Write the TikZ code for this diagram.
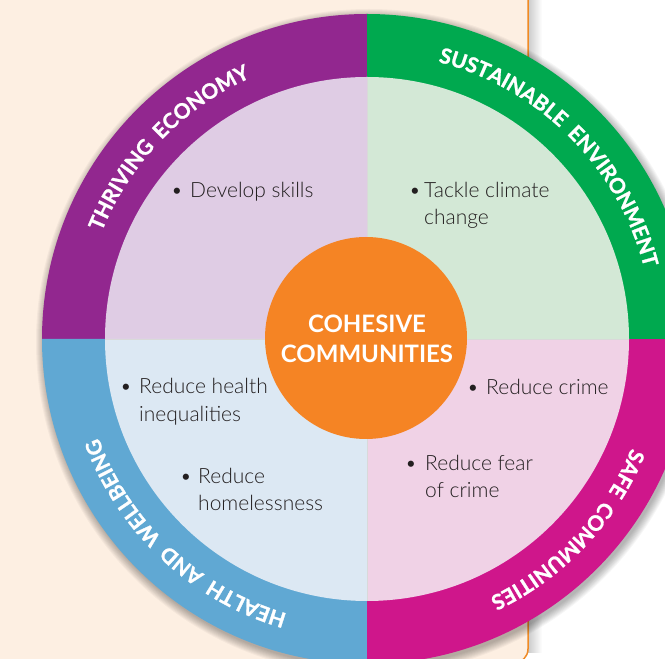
\documentclass[tikz,border=0pt]{standalone}
\usepackage{fontspec}
\setmainfont{Lato}
\newfontfamily\bodyfam{Lato Light}
\newfontfamily\ringfam{Lato}[LetterSpace=20, FakeBold=1.2]
\usetikzlibrary{decorations.text}
\definecolor{ringP}{HTML}{92278F}
\definecolor{lightP}{HTML}{DFCCE4}
\definecolor{ringG}{HTML}{00A94F}
\definecolor{lightG}{HTML}{D3E8D6}
\definecolor{ringM}{HTML}{CF168B}
\definecolor{lightM}{HTML}{F0D2E6}
\definecolor{ringB}{HTML}{60A8D3}
\definecolor{lightB}{HTML}{DCE8F3}
\definecolor{coreO}{HTML}{F58424}
\definecolor{peach}{HTML}{FDEFE2}
\definecolor{borderO}{HTML}{F08A24}
\definecolor{txtC}{HTML}{231F20}
\newcommand\ringfont{\ringfam\bfseries\fontsize{21}{21}\selectfont}
\tikzset{
  bodytxt/.style={inner sep=0pt, anchor=base west, text=txtC, font=\bodyfam\fontsize{21}{28}\selectfont},
  bulletmark/.style={inner sep=0pt, anchor=base, text=txtC, font=\bodyfam\fontsize{21}{28}\selectfont},
  coretxt/.style={inner sep=0pt, anchor=base, text=white, font=\bfseries\fontsize{24}{28}\selectfont},
  ringlabel/.style={decorate, decoration={text along path, text={|\ringfont|#1}, text align=center, text color=white}}
}
\begin{document}
\begin{tikzpicture}[x=1pt,y=1pt]
\useasboundingbox (0,0) rectangle (665,659);
\fill[white] (0,0) rectangle (665,659);
% panel shadow and panel
\shade[left color=black!22, right color=white] (527,6) rectangle (542,680);
\fill[peach, draw=borderO, line width=1.5pt, rounded corners=14pt] (-20,-4) rectangle (528,680);
\coordinate (C) at (367,320);
% ring shadow
\foreach \k in {1,...,9} \fill[black, opacity=0.035] ([shift={(2,-3)}]C) circle[radius=324+\k];
% outer ring sectors
\fill[ringP] (C) -- ([shift={(90:325)}]C) arc[start angle=90, end angle=180, radius=325] -- cycle;
\fill[ringB] (C) -- ([shift={(180:325)}]C) arc[start angle=180, end angle=270, radius=325] -- cycle;
\fill[ringM] (C) -- ([shift={(270:325)}]C) arc[start angle=270, end angle=360, radius=325] -- cycle;
\fill[ringG] (C) -- ([shift={(0:325)}]C) arc[start angle=0, end angle=90, radius=325] -- cycle;
% inner sectors
\fill[lightP] (C) -- ([shift={(90:262)}]C) arc[start angle=90, end angle=180, radius=262] -- cycle;
\fill[lightB] (C) -- ([shift={(180:262)}]C) arc[start angle=180, end angle=270, radius=262] -- cycle;
\fill[lightM] (C) -- ([shift={(270:262)}]C) arc[start angle=270, end angle=360, radius=262] -- cycle;
\fill[lightG] (C) -- ([shift={(0:262)}]C) arc[start angle=0, end angle=90, radius=262] -- cycle;
\draw[black!15, line width=0.6pt] ([shift={(180:262)}]C) -- ([shift={(0:262)}]C);
\draw[black!15, line width=0.6pt] ([shift={(90:262)}]C) -- ([shift={(270:262)}]C);
% ring labels
\path[ringlabel={THRIVING ECONOMY}] ([shift={(178:286)}]C) arc[start angle=178, end angle=94, radius=286];
\path[ringlabel={SUSTAINABLE ENVIRONMENT}] ([shift={(88:286)}]C) arc[start angle=88, end angle=2, radius=286];
\path[ringlabel={SAFE COMMUNITIES}] ([shift={(-2:286)}]C) arc[start angle=-2, end angle=-85, radius=286];
\path[ringlabel={HEALTH AND WELLBEING}] ([shift={(-91:286)}]C) arc[start angle=-91, end angle=-175, radius=286];
% core
\node[circle, fill=coreO, minimum size=202pt, inner sep=0pt] (core) at (366,321) {};
\node[coretxt] (core1) at (367,326) {COHESIVE};
\node[coretxt] (core2) at (367,296) {COMMUNITIES};
% bullet texts
\node[bulletmark] (b1) at (177,461) {•};
\node[bodytxt] (t1) at (190,461) {Develop skills};
\node[bulletmark] (b2) at (415,461) {•};
\node[bodytxt] (t2a) at (424,461) {Tackle climate};
\node[bodytxt] (t2b) at (424,434) {change};
\node[bulletmark] (b3) at (126,265) {•};
\node[bodytxt] (t3a) at (139,265) {Reduce health};
\node[bodytxt] (t3b) at (139,237) {inequalities};
\node[bulletmark] (b4) at (186,175) {•};
\node[bodytxt] (t4a) at (198,175) {Reduce};
\node[bodytxt] (t4b) at (198,148) {homelessness};
\node[bulletmark] (b5) at (473,264) {•};
\node[bodytxt] (t5) at (486,264) {Reduce crime};
\node[bulletmark] (b6) at (411,188) {•};
\node[bodytxt] (t6a) at (425,188) {Reduce fear};
\node[bodytxt] (t6b) at (425,161) {of crime};
\end{tikzpicture}
\end{document}
